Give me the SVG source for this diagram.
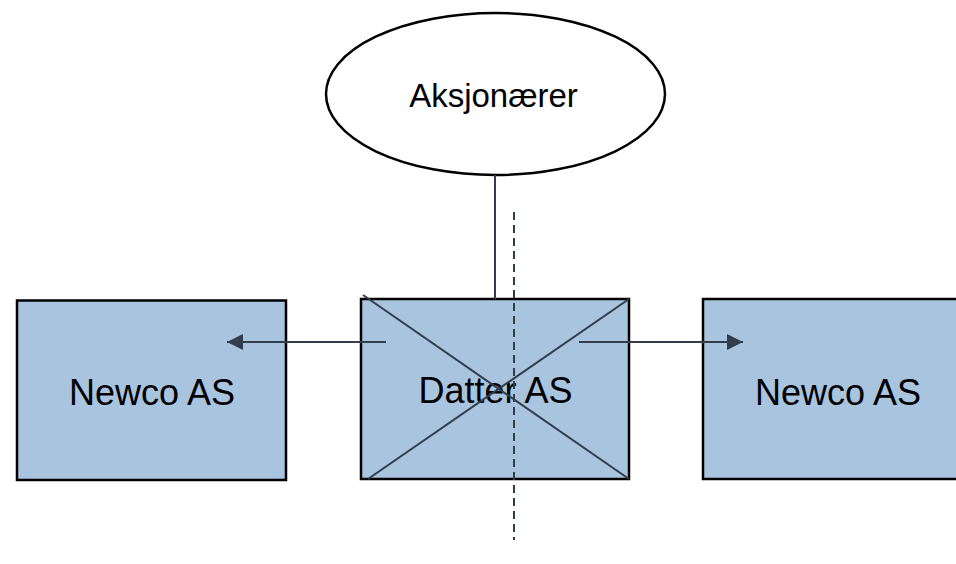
<svg xmlns="http://www.w3.org/2000/svg" width="956" height="564" viewBox="0 0 956 564">
<defs>
<style>
.box{fill:#a9c4de;stroke:#000;stroke-width:2.5}
.lbl{font-family:"Liberation Sans",Arial,sans-serif;fill:#000;text-anchor:middle}
.conn{stroke:#323e4c;stroke-width:2;fill:none}
</style>
<marker id="arr" markerWidth="10" markerHeight="10" refX="8" refY="5" orient="auto" markerUnits="userSpaceOnUse" viewBox="0 0 10 10">
<path d="M0,0 L10,5 L0,10 Z" fill="#323e4c"/>
</marker>
<marker id="ah" viewBox="0 0 16 16" refX="16" refY="8" markerWidth="16" markerHeight="16" orient="auto" markerUnits="userSpaceOnUse">
<path d="M0,0 L16,8 L0,16 Z" fill="#323e4c"/>
</marker>
</defs>
<rect width="956" height="564" fill="#fff"/>
<g id="aksjonaerer">
<ellipse cx="495.5" cy="94" rx="169.5" ry="81" fill="#fff" stroke="#000" stroke-width="2.5"/>
<text class="lbl" x="493.5" y="107" font-size="33">Aksjonærer</text>
</g>
<g id="newco-left">
<rect class="box" x="17" y="300.5" width="269" height="179.5"/>
<text class="lbl" x="152" y="405" font-size="36">Newco AS</text>
</g>
<g id="datter">
<rect class="box" x="361" y="299" width="268" height="180"/>
<text class="lbl" x="495.5" y="403" font-size="36">Datter AS</text>
</g>
<g id="newco-right">
<rect class="box" x="703" y="299" width="269" height="180"/>
<text class="lbl" x="838" y="405" font-size="36">Newco AS</text>
</g>
<g id="connectors">
<line class="conn" x1="495" y1="175" x2="495" y2="299"/>
<line class="conn" x1="363" y1="295" x2="629" y2="479"/>
<line class="conn" x1="368" y1="479" x2="629" y2="299"/>
<line class="conn" x1="386" y1="342" x2="227" y2="342" marker-end="url(#ah)"/>
<line class="conn" x1="579" y1="342" x2="743" y2="342" marker-end="url(#ah)"/>
<line class="conn" x1="514" y1="212" x2="514" y2="540" stroke-dasharray="8,5"/>
</g>
</svg>
